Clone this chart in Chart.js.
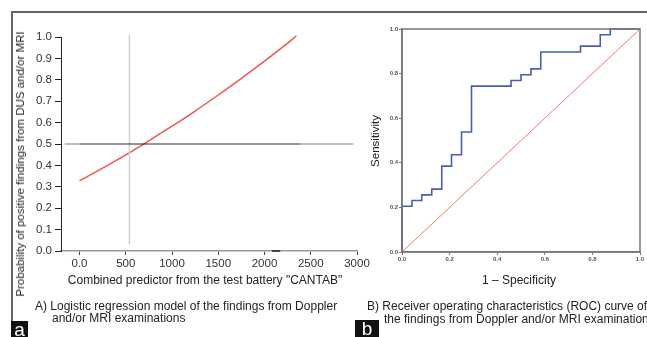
<!DOCTYPE html>
<html>
<head>
<meta charset="utf-8">
<script src="https://cdn.jsdelivr.net/npm/chart.js@4/dist/chart.umd.min.js"></script>
<style>
body { margin: 0; width: 647px; height: 337px; background: #fff; position: relative; overflow: hidden;
       font-family: "Liberation Sans", Arial, sans-serif; color: #222; }
.abs { position: absolute; white-space: nowrap; }
canvas { position: absolute; }
#lineTop { left: 11px; top: 11px; width: 636px; border-top: 2px solid #666; }
#lineLeft { left: 11px; top: 11px; height: 311px; border-left: 2px solid #666; }
.vtitle { font-size: 11.5px; transform: translate(-50%, -50%) rotate(-90deg); }
.htitle { font-size: 12px; transform: translate(-50%, -50%); }
.cap { font-size: 12px; line-height: 12px; }
.tag { background: #111; color: #fff; font-size: 19px; line-height: 17px; text-align: center; overflow: hidden; }
</style>
</head>
<body>
<div class="abs" id="lineTop"></div>
<div class="abs" id="lineLeft"></div>

<canvas id="chartA" width="375" height="280" style="left:0;top:0;width:375px;height:280px"></canvas>
<canvas id="chartB" width="292" height="280" style="left:355px;top:0;width:292px;height:280px"></canvas>

<div class="abs vtitle" style="left:20px;top:164px">Probability of positive findings from DUS and/or MRI</div>
<div class="abs htitle" style="left:205px;top:280px">Combined predictor from the test battery "CANTAB"</div>
<div class="abs vtitle" style="left:375px;top:141px">Sensitivity</div>
<div class="abs htitle" style="left:519px;top:280px">1 – Specificity</div>

<div class="abs cap" style="left:35px;top:300px">A) Logistic regression model of the findings from Doppler</div>
<div class="abs cap" style="left:52px;top:312px">and/or MRI examinations</div>
<div class="abs cap" style="left:367px;top:300px">B) Receiver operating characteristics (ROC) curve of</div>
<div class="abs cap" style="left:384px;top:313px">the findings from Doppler and/or MRI examination</div>

<div class="abs tag" style="left:11px;top:321px;width:17px;height:16px">a</div>
<div class="abs tag" style="left:355px;top:320px;width:24px;height:17px">b</div>

<script>
// panel A: fitted probability vs combined CANTAB predictor
var predictor = [0, 250, 500, 750, 1000, 1250, 1500, 1750, 2000, 2250, 2345];
var probability = [0.328, 0.387, 0.449, 0.515, 0.583, 0.654, 0.729, 0.807, 0.887, 0.971, 1.006];
var cutX = [540, 540];
var cutY = [0.03, 1.01];
var halfLineX = [-160, 2960];
var halfLineDarkX = [0, 2390];
var halfY = [0.5, 0.5];
var dashX = [2080, 2170];
var dashY = [0, 0];
var xTickValues = [0, 500, 1000, 1500, 2000, 2500, 3000];
var xTickLabels = ["0.0", "500", "1000", "1500", "2000", "2500", "3000"];
var yTickValues = [0, 0.1, 0.2, 0.3, 0.4, 0.5, 0.6, 0.7, 0.8, 0.9, 1.0];
var yTickLabels = ["0.0", "0.1", "0.2", "0.3", "0.4", "0.5", "0.6", "0.7", "0.8", "0.9", "1.0"];

// panel B: ROC curve
var fpr = [0, 0, 0.042, 0.083, 0.125, 0.167, 0.208, 0.25, 0.292, 0.458, 0.5, 0.542, 0.583, 0.75, 0.833, 0.875, 1.0];
var tpr = [0, 0.205, 0.231, 0.256, 0.282, 0.385, 0.436, 0.538, 0.744, 0.769, 0.795, 0.821, 0.897, 0.923, 0.974, 1.0, 1.0];
var diagonal = [0, 1];
var rocTickValues = [0, 0.2, 0.4, 0.6, 0.8, 1.0];
var rocTickLabels = ["0.0", "0.2", "0.4", "0.6", "0.8", "1.0"];

function pts(xs, ys) {
    return xs.map(function (x, i) { return { x: x, y: ys[i] }; });
}

function fixedTicks(values) {
    return function (scale) {
        scale.ticks = values.map(function (v) { return { value: v }; });
    };
}

var frame = {
    id: "frame",
    afterDraw: function (chart) {
        var a = chart.chartArea, c = chart.ctx;
        c.save();
        c.strokeStyle = "#777";
        c.lineWidth = 1.5;
        c.strokeRect(a.left, a.top, a.right - a.left, a.bottom - a.top);
        c.restore();
    }
};

Chart.defaults.font.family = '"Liberation Sans", Arial, sans-serif';
Chart.defaults.animation = false;

new Chart(document.getElementById("chartA"), {
    type: "line",
    data: {
        datasets: [
            { data: pts(halfLineX, halfY), borderColor: "rgba(0,0,0,0.33)", borderWidth: 1.5, pointRadius: 0 },
            { data: pts(halfLineDarkX, halfY), borderColor: "rgba(0,0,0,0.3)", borderWidth: 1.5, pointRadius: 0 },
            { data: pts(cutX, cutY), borderColor: "#cfcfcf", borderWidth: 1.5, pointRadius: 0, clip: false },
            { data: pts(dashX, dashY), borderColor: "#222", borderWidth: 1.5, pointRadius: 0, clip: false },
            { data: pts(predictor, probability), borderColor: "#f05555", borderWidth: 1.5, pointRadius: 0,
              tension: 0.3, clip: false }
        ]
    },
    options: {
        responsive: false,
        layout: { padding: { left: 21, top: 37, right: 18, bottom: 5 } },
        plugins: { legend: { display: false }, tooltip: { enabled: false } },
        scales: {
            x: {
                type: "linear", min: -200, max: 3000,
                afterBuildTicks: fixedTicks(xTickValues),
                afterFit: function (s) { s.height = 24; },
                grid: { drawOnChartArea: false, tickLength: 4, color: "#444" },
                border: { color: "#999", width: 1.5 },
                ticks: { padding: 2, color: "#333", font: { size: 11.5 }, maxRotation: 0,
                         callback: function (v, i) { return xTickLabels[i]; } }
            },
            y: {
                min: 0, max: 1,
                afterBuildTicks: fixedTicks(yTickValues),
                afterFit: function (s) { s.width = 40; },
                grid: { drawOnChartArea: false, tickLength: 6, color: "#222" },
                border: { color: "#222", width: 1 },
                ticks: { padding: 3, color: "#333", font: { size: 11.5 },
                         callback: function (v, i) { return yTickLabels[i]; } }
            }
        }
    }
});

new Chart(document.getElementById("chartB"), {
    type: "line",
    data: {
        datasets: [
            { data: pts(diagonal, diagonal), borderColor: "#f27a6e", borderWidth: 1, pointRadius: 0 },
            { data: pts(fpr, tpr), borderColor: "#4a5db4", borderWidth: 1.6, pointRadius: 0,
              stepped: "before", clip: false }
        ]
    },
    options: {
        responsive: false,
        layout: { padding: { left: 20, top: 29, right: 7, bottom: 14 } },
        plugins: { legend: { display: false }, tooltip: { enabled: false } },
        scales: {
            x: {
                type: "linear", min: 0, max: 1,
                afterBuildTicks: fixedTicks(rocTickValues),
                afterFit: function (s) { s.height = 14; },
                grid: { drawOnChartArea: false, tickLength: 3, color: "#777" },
                border: { color: "#777", width: 1.5 },
                ticks: { padding: 1, color: "#555", font: { size: 6, weight: "bold" }, maxRotation: 0,
                         callback: function (v, i) { return rocTickLabels[i]; } }
            },
            y: {
                min: 0, max: 1,
                afterBuildTicks: fixedTicks(rocTickValues),
                afterFit: function (s) { s.width = 27; },
                grid: { drawOnChartArea: false, tickLength: 3, color: "#777" },
                border: { color: "#777", width: 1.5 },
                ticks: { padding: 1, color: "#555", font: { size: 6, weight: "bold" },
                         callback: function (v, i) { return rocTickLabels[i]; } }
            }
        }
    },
    plugins: [frame]
});
</script>
</body>
</html>
